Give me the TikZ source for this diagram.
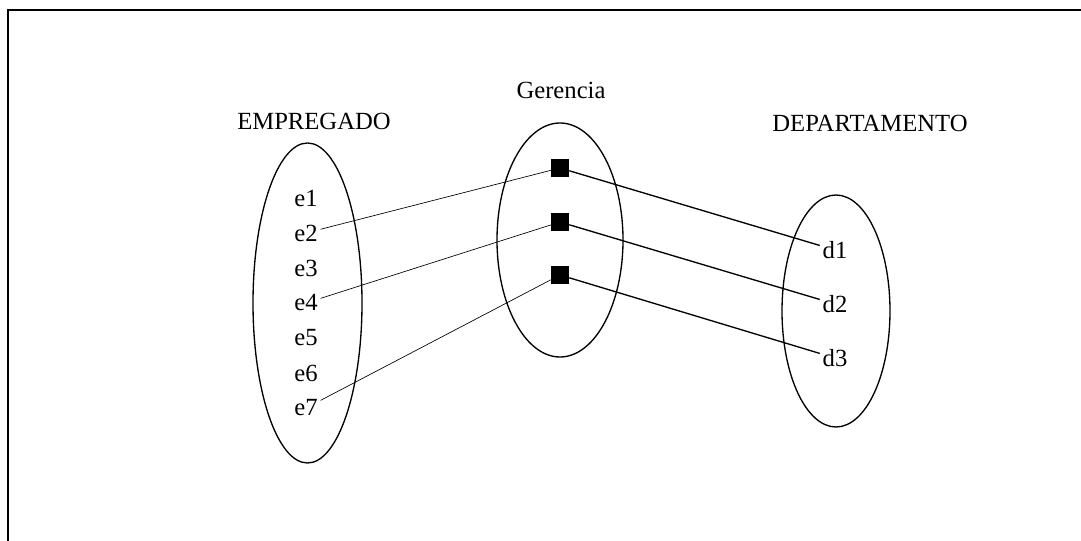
\documentclass[tikz,border=0pt]{standalone}
\usepackage{fontspec}
\setmainfont{Liberation Serif}
\usetikzlibrary{shapes.geometric}
\tikzset{
    conj/.style={
           ellipse,
           draw=black, line width=1pt,
           inner sep=0pt},
    marca/.style={
           rectangle,
           fill=black,
           minimum size=13.5pt,
           inner sep=0pt},
    rot/.style={
           inner sep=2pt},
    fina/.style={
           line width=0.5pt},
    grossa/.style={
           line width=1pt}
}

\begin{document}
\begin{tikzpicture}[x=0.75pt,y=-0.75pt]
          \fontsize{18.5pt}{22pt}\selectfont
          \useasboundingbox (0,0) rectangle (1081,541);
          \draw[line width=1.5pt] (8,541) -- (8,10) -- (1081,10);
          % conjuntos
          \node[conj, minimum width=81.75pt, minimum height=240pt](empregado) at (307.5,303) {};
          \node[conj, minimum width=94.5pt, minimum height=175.5pt](gerencia) at (560,240) {};
          \node[conj, minimum width=81pt, minimum height=174pt](departamento) at (836,311) {};
          \node[rot](tEmp) at (314,121) {EMPREGADO};
          \node[rot](tGer) at (561,90) {Gerencia};
          \node[rot](tDep) at (870,123.5) {DEPARTAMENTO};
          % empregados
          \node[rot](e1) at (306,198) {e1};
          \node[rot](e2) at (306,233) {e2};
          \node[rot](e3) at (306,268) {e3};
          \node[rot](e4) at (306,303) {e4};
          \node[rot](e5) at (306,338) {e5};
          \node[rot](e6) at (306,373) {e6};
          \node[rot](e7) at (306,408) {e7};
          % departamentos
          \node[rot](d1) at (835,250) {d1};
          \node[rot](d2) at (835,304) {d2};
          \node[rot](d3) at (835,358) {d3};
          % relacionamentos
          \node[marca](r1) at (560,168) {};
          \node[marca](r2) at (560,222) {};
          \node[marca](r3) at (560,275) {};
          \draw[fina] (e2) -- (r1);
          \draw[fina] (e4) -- (r2);
          \draw[fina] (e7) -- (r3);
          \draw[grossa] (r1) -- (d1);
          \draw[grossa] (r2) -- (d2);
          \draw[grossa] (r3) -- (d3);
\end{tikzpicture}
\end{document}
